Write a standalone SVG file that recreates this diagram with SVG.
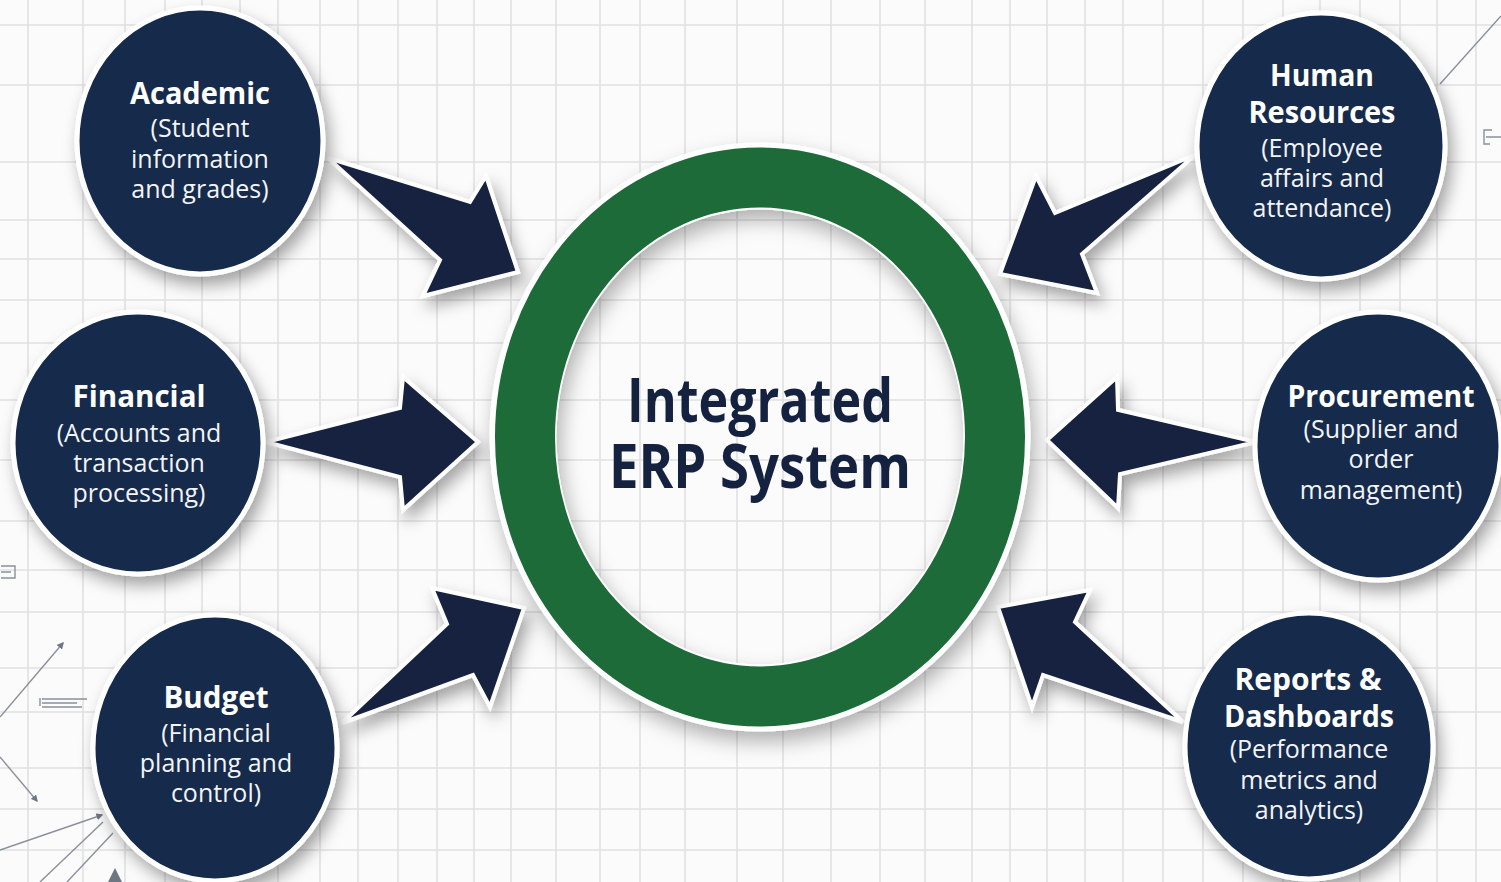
<svg xmlns="http://www.w3.org/2000/svg" width="1501" height="882" viewBox="0 0 1501 882">
<defs>
<filter id="sh" x="-30%" y="-30%" width="160%" height="160%">
<feDropShadow dx="5" dy="9" stdDeviation="8" flood-color="#000" flood-opacity="0.35"/>
</filter>
<filter id="shr" x="-20%" y="-20%" width="140%" height="140%">
<feDropShadow dx="4" dy="10" stdDeviation="10" flood-color="#000" flood-opacity="0.3"/>
</filter>
<marker id="fa" viewBox="0 0 10 10" refX="8" refY="5" markerWidth="5" markerHeight="5" orient="auto">
<path d="M0,0 L10,5 L0,10 z" fill="#6f7683"/>
</marker>
</defs>
<style>
.grid line{stroke:#e1e1e1;stroke-width:1.6}
.deco{stroke:#8a909a;stroke-width:1.4;fill:none}
.node ellipse{fill:#132a4b;stroke:#ffffff;stroke-width:5}
.arrow{fill:#13233f;stroke:#ffffff;stroke-width:4;stroke-linejoin:miter}
.lbl{font-family:"Open Sans","Noto Sans","Liberation Sans",sans-serif;fill:#ffffff;text-anchor:middle}
.t{font-weight:700;font-size:30px;fill:#ffffff}
.s{font-weight:400;font-size:25px;fill:#f2f4f7}
.c{font-family:"Open Sans","Noto Sans","Liberation Sans",sans-serif;font-weight:700;font-size:61px;fill:#14223f;text-anchor:middle}
</style>
<rect width="1501" height="882" fill="#fbfbfb"/>
<g class="grid">
<line x1="28" y1="0" x2="28" y2="882"/><line x1="83" y1="0" x2="83" y2="882"/><line x1="125" y1="0" x2="125" y2="882"/><line x1="165" y1="0" x2="165" y2="882"/><line x1="202" y1="0" x2="202" y2="882"/><line x1="240" y1="0" x2="240" y2="882"/><line x1="278" y1="0" x2="278" y2="882"/><line x1="320" y1="0" x2="320" y2="882"/><line x1="358" y1="0" x2="358" y2="882"/><line x1="398" y1="0" x2="398" y2="882"/><line x1="437" y1="0" x2="437" y2="882"/><line x1="474" y1="0" x2="474" y2="882"/><line x1="511" y1="0" x2="511" y2="882"/><line x1="556" y1="0" x2="556" y2="882"/><line x1="600" y1="0" x2="600" y2="882"/><line x1="640" y1="0" x2="640" y2="882"/><line x1="685" y1="0" x2="685" y2="882"/><line x1="737" y1="0" x2="737" y2="882"/><line x1="783" y1="0" x2="783" y2="882"/><line x1="831" y1="0" x2="831" y2="882"/><line x1="880" y1="0" x2="880" y2="882"/><line x1="925" y1="0" x2="925" y2="882"/><line x1="972" y1="0" x2="972" y2="882"/><line x1="1010" y1="0" x2="1010" y2="882"/><line x1="1047" y1="0" x2="1047" y2="882"/><line x1="1085" y1="0" x2="1085" y2="882"/><line x1="1123" y1="0" x2="1123" y2="882"/><line x1="1163" y1="0" x2="1163" y2="882"/><line x1="1203" y1="0" x2="1203" y2="882"/><line x1="1243" y1="0" x2="1243" y2="882"/><line x1="1283" y1="0" x2="1283" y2="882"/><line x1="1320" y1="0" x2="1320" y2="882"/><line x1="1360" y1="0" x2="1360" y2="882"/><line x1="1400" y1="0" x2="1400" y2="882"/><line x1="1437" y1="0" x2="1437" y2="882"/><line x1="1476" y1="0" x2="1476" y2="882"/>
<line x1="0" y1="25" x2="1501" y2="25"/><line x1="0" y1="85" x2="1501" y2="85"/><line x1="0" y1="162" x2="1501" y2="162"/><line x1="0" y1="220" x2="1501" y2="220"/><line x1="0" y1="259" x2="1501" y2="259"/><line x1="0" y1="300" x2="1501" y2="300"/><line x1="0" y1="343" x2="1501" y2="343"/><line x1="0" y1="400" x2="1501" y2="400"/><line x1="0" y1="460" x2="1501" y2="460"/><line x1="0" y1="521" x2="1501" y2="521"/><line x1="0" y1="570" x2="1501" y2="570"/><line x1="0" y1="612" x2="1501" y2="612"/><line x1="0" y1="668" x2="1501" y2="668"/><line x1="0" y1="712" x2="1501" y2="712"/><line x1="0" y1="768" x2="1501" y2="768"/><line x1="0" y1="809" x2="1501" y2="809"/><line x1="0" y1="850" x2="1501" y2="850"/>
</g>
<g id="decor">
<line class="deco" x1="1440" y1="84" x2="1501" y2="16"/>
<path class="deco" d="M1492,130 h-8 v14 h6 M1486,137 h15"/>
<path class="deco" d="M1,566 h14 v12 h-14 M1,572 h10"/>
<line class="deco" x1="0" y1="717" x2="63" y2="643" marker-end="url(#fa)"/>
<line class="deco" x1="0" y1="757" x2="37" y2="801" marker-end="url(#fa)"/>
<line class="deco" x1="0" y1="850" x2="102" y2="815" marker-end="url(#fa)"/>
<line class="deco" x1="40" y1="882" x2="103" y2="822"/>
<line class="deco" x1="67" y1="882" x2="113" y2="833"/>
<path d="M108,882 L115,868 L122,882 z" fill="#6f7683"/>
<path class="deco" d="M40,698 v8 M42,699 h45 M42,703 h35 M42,707 h40" stroke-width="0.8"/>
</g>
<g id="connectors">
<polygon class="arrow" filter="url(#sh)" points="328,158 470,202 486,176 518,272 423,296 440,260"/>
<polygon class="arrow" filter="url(#sh)" points="1195,155 1055,213 1036,176 1000,274 1097,293 1082,254"/>
<polygon class="arrow" filter="url(#sh)" points="266,442 400,408 403,377 478,442 403,510 400,477"/>
<polygon class="arrow" filter="url(#sh)" points="1256,442 1118,410 1117,377 1047,440 1118,508 1120,474"/>
<polygon class="arrow" filter="url(#sh)" points="342,723 447,624 432,588 524,608 490,707 473,675"/>
<polygon class="arrow" filter="url(#sh)" points="1183,722 1075,622 1090,590 998,607 1032,707 1043,675"/>
</g>
<g id="center">
<ellipse cx="760" cy="437" rx="237" ry="261" fill="none" stroke="#ffffff" stroke-width="67" filter="url(#shr)"/>
<ellipse cx="760" cy="437" rx="235" ry="259.5" fill="none" stroke="#1c6b38" stroke-width="60"/>
<text class="c"><tspan x="760" y="422" textLength="266" lengthAdjust="spacingAndGlyphs">Integrated</tspan><tspan x="760" y="488" textLength="302" lengthAdjust="spacingAndGlyphs">ERP System</tspan></text>
</g>
<g id="academic" class="node">
<ellipse cx="200" cy="141" rx="123" ry="133" filter="url(#sh)"/>
<text class="lbl"><tspan class="t" x="200" y="104" textLength="140" lengthAdjust="spacingAndGlyphs">Academic</tspan><tspan class="s" x="200" y="137">(Student</tspan><tspan class="s" x="200" y="168">information</tspan><tspan class="s" x="200" y="198">and grades)</tspan></text>
</g>
<g id="hr" class="node">
<ellipse cx="1321" cy="146" rx="124" ry="133" filter="url(#sh)"/>
<text class="lbl"><tspan class="t" x="1322" y="86" textLength="104" lengthAdjust="spacingAndGlyphs">Human</tspan><tspan class="t" x="1322" y="123" textLength="147" lengthAdjust="spacingAndGlyphs">Resources</tspan><tspan class="s" x="1322" y="157">(Employee</tspan><tspan class="s" x="1322" y="187">affairs and</tspan><tspan class="s" x="1322" y="217">attendance)</tspan></text>
</g>
<g id="financial" class="node">
<ellipse cx="138" cy="443" rx="125" ry="131" filter="url(#sh)"/>
<text class="lbl"><tspan class="t" x="139" y="407" textLength="133" lengthAdjust="spacingAndGlyphs">Financial</tspan><tspan class="s" x="139" y="442">(Accounts and</tspan><tspan class="s" x="139" y="472">transaction</tspan><tspan class="s" x="139" y="502">processing)</tspan></text>
</g>
<g id="procurement" class="node">
<ellipse cx="1378" cy="446" rx="123" ry="134" filter="url(#sh)"/>
<text class="lbl"><tspan class="t" x="1381" y="407" textLength="187" lengthAdjust="spacingAndGlyphs">Procurement</tspan><tspan class="s" x="1381" y="438">(Supplier and</tspan><tspan class="s" x="1381" y="468">order</tspan><tspan class="s" x="1381" y="499">management)</tspan></text>
</g>
<g id="budget" class="node">
<ellipse cx="215" cy="748" rx="122" ry="133" filter="url(#sh)"/>
<text class="lbl"><tspan class="t" x="216" y="708" textLength="105" lengthAdjust="spacingAndGlyphs">Budget</tspan><tspan class="s" x="216" y="742">(Financial</tspan><tspan class="s" x="216" y="772">planning and</tspan><tspan class="s" x="216" y="802">control)</tspan></text>
</g>
<g id="reports" class="node">
<ellipse cx="1309" cy="746" rx="124" ry="133" filter="url(#sh)"/>
<text class="lbl"><tspan class="t" x="1308" y="690" textLength="147" lengthAdjust="spacingAndGlyphs">Reports &amp;</tspan><tspan class="t" x="1309" y="727" textLength="170" lengthAdjust="spacingAndGlyphs">Dashboards</tspan><tspan class="s" x="1309" y="758">(Performance</tspan><tspan class="s" x="1309" y="789">metrics and</tspan><tspan class="s" x="1309" y="819">analytics)</tspan></text>
</g>
</svg>
